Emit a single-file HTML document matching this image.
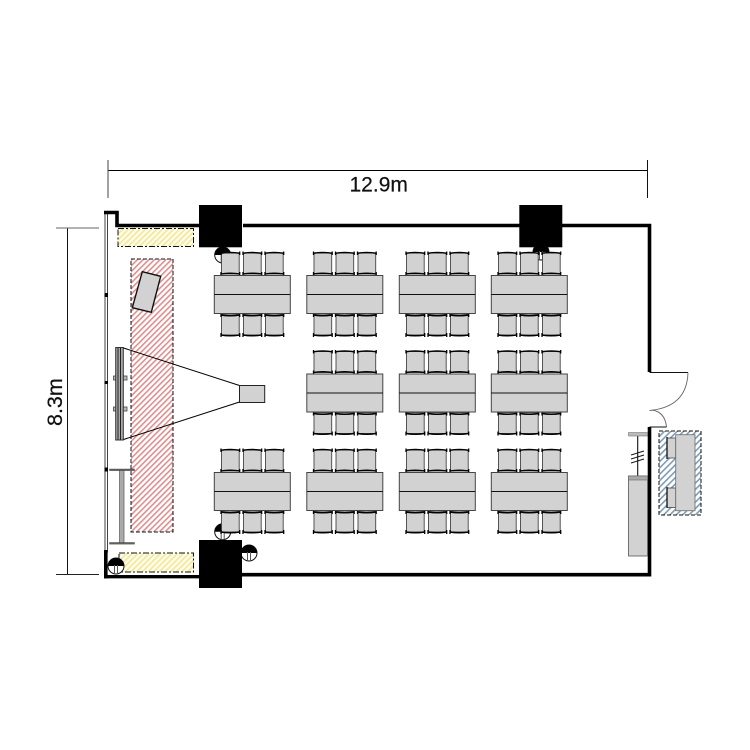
<!DOCTYPE html>
<html><head><meta charset="utf-8"><style>html,body{margin:0;padding:0;background:#fff}svg{display:block}</style></head><body>
<svg xmlns="http://www.w3.org/2000/svg" width="750" height="750" viewBox="0 0 750 750">
<defs>
<pattern id="r" width="4" height="4" patternUnits="userSpaceOnUse" patternTransform="rotate(45)"><rect width="4" height="4" fill="#fff"/><rect width="1.6" height="4" fill="#e08f8f"/></pattern>
<pattern id="y" width="4" height="4" patternUnits="userSpaceOnUse" patternTransform="rotate(45)"><rect width="4" height="4" fill="#fffdf0"/><rect width="1.8" height="4" fill="#f3e99c"/></pattern>
<pattern id="b" width="4.5" height="4.5" patternUnits="userSpaceOnUse" patternTransform="rotate(45)"><rect width="4.5" height="4.5" fill="#fff"/><rect width="1.6" height="4.5" fill="#7f9bb5"/></pattern>
<g id="c"><rect x="0.5" y="1.5" width="17.7" height="21" fill="#d2d2d2" stroke="#444" stroke-width="0.9"/><path d="M0 1.8Q9 0.3 18.7 1.8M0 22.5Q9 21 18.7 22.5" fill="none" stroke="#000" stroke-width="1.5"/><path d="M0 0V3.5M18.7 0V3.5M0 20.5V24M18.7 20.5V24" stroke="#000" stroke-width="1.3"/></g>
<g id="cd"><rect x="0.5" y="0.5" width="17.7" height="21" fill="#d2d2d2" stroke="#444" stroke-width="0.9"/><path d="M0 1.5Q9 3 18.7 1.5M0 21.5Q9 23 18.7 21.5" fill="none" stroke="#000" stroke-width="1.5"/><path d="M0 0V3.5M18.7 0V3.5M0 19.5V23.5M18.7 19.5V23.5" stroke="#000" stroke-width="1.3"/></g>
<g id="t">
<use href="#c" x="7" y="-24"/><use href="#c" x="29" y="-24"/><use href="#c" x="51" y="-24"/>
<use href="#cd" x="7" y="38"/><use href="#cd" x="29" y="38"/><use href="#cd" x="51" y="38"/>
<rect x="0.3" y="0" width="76" height="38" fill="#d2d2d2" stroke="#444" stroke-width="1"/>
<line x1="0.3" y1="19" x2="76.3" y2="19" stroke="#111" stroke-width="1"/>
</g>
<g id="d"><circle cx="0" cy="0" r="8" fill="#fff" stroke="#111" stroke-width="1"/><path d="M-8 0A8 8 0 0 1 8 0Z" fill="#000"/><path d="M-1.5 -1V8M1.5 -1V8" stroke="#555" stroke-width="1"/></g>
</defs>

<!-- dimensions -->
<line x1="108" y1="170.5" x2="648" y2="170.5" stroke="#000" stroke-width="1"/>
<line x1="108" y1="160" x2="108" y2="198" stroke="#444" stroke-width="1"/>
<line x1="647.5" y1="160" x2="647.5" y2="198" stroke="#111" stroke-width="1"/>
<text x="349.5" y="191.5" font-family="Liberation Sans, sans-serif" font-size="21" fill="#111" stroke="#111" stroke-width="0.2">12.9m</text>
<line x1="67.5" y1="228" x2="67.5" y2="575" stroke="#111" stroke-width="1"/>
<line x1="56" y1="228" x2="99" y2="228" stroke="#666" stroke-width="1"/>
<line x1="56" y1="574.5" x2="99" y2="574.5" stroke="#222" stroke-width="1"/>
<text transform="translate(62 426) rotate(-90)" font-family="Liberation Sans, sans-serif" font-size="21.5" fill="#111" stroke="#111" stroke-width="0.2">8.3m</text>

<!-- hatch zones -->
<rect x="118" y="228.5" width="75.5" height="18" fill="url(#y)" stroke="#111" stroke-width="1" stroke-dasharray="6 2 2 2"/>
<rect x="119" y="553" width="74.5" height="19" fill="url(#y)" stroke="#111" stroke-width="1" stroke-dasharray="6 2 2 2"/>
<rect x="131" y="259" width="42" height="273" fill="url(#r)" stroke="#111" stroke-width="1" stroke-dasharray="4 2"/>
<polygon points="142.3,271.7 160.7,276.3 151.3,312.3 132.3,307.7" fill="#d2d2d2" stroke="#111" stroke-width="1.4"/>

<!-- door swing circles -->
<use href="#d" x="222.7" y="255"/>
<use href="#d" x="222.7" y="531.7"/>
<use href="#d" x="249" y="553"/>
<use href="#d" x="541" y="252"/>

<!-- tables -->
<use href="#t" x="214" y="275.5"/><use href="#t" x="306.5" y="275.5"/><use href="#t" x="399" y="275.5"/><use href="#t" x="491" y="275.5"/>
<use href="#t" x="306.5" y="374"/><use href="#t" x="399" y="374"/><use href="#t" x="491" y="374"/>
<use href="#t" x="214" y="472.5"/><use href="#t" x="306.5" y="472.5"/><use href="#t" x="399" y="472.5"/><use href="#t" x="491" y="472.5"/>

<!-- walls -->
<rect x="105" y="212" width="2.5" height="340" fill="#fff" stroke="#444" stroke-width="1"/>
<path d="M104 212.5H117V225.5H199M243 225.5H649.5V372M649.5 427V574.7H242" fill="none" stroke="#000" stroke-width="3.6"/>
<path d="M104 576.7H199" fill="none" stroke="#000" stroke-width="3.4"/>
<rect x="104" y="550" width="3.6" height="28.4" fill="#000"/>
<rect x="104.5" y="293" width="3.5" height="4" fill="#000"/>
<rect x="104.5" y="381" width="3.5" height="3" fill="#000"/>
<rect x="104.5" y="467.5" width="3.5" height="4" fill="#000"/>
<use href="#d" x="116" y="566"/>

<!-- columns -->
<rect x="199" y="205" width="43" height="42.3" fill="#000"/>
<rect x="519.3" y="205" width="43" height="42.3" fill="#000"/>
<rect x="199" y="540" width="43" height="48" fill="#000"/>

<!-- screen & projector -->
<line x1="122" y1="347.5" x2="239.5" y2="385.5" stroke="#000" stroke-width="1"/>
<line x1="122" y1="440" x2="239.5" y2="402" stroke="#000" stroke-width="1"/>
<rect x="239.5" y="385.5" width="25.2" height="17" fill="#d2d2d2" stroke="#222" stroke-width="1"/>
<rect x="113.5" y="376" width="13.5" height="4" fill="#bbb" stroke="#444" stroke-width="0.8"/>
<rect x="113.5" y="407" width="13.5" height="4" fill="#bbb" stroke="#444" stroke-width="0.8"/>
<rect x="115.7" y="347.5" width="7.6" height="92.5" fill="#aaa" stroke="#333" stroke-width="1"/>
<line x1="118" y1="348" x2="118" y2="440" stroke="#222" stroke-width="1"/>
<line x1="120.5" y1="348" x2="120.5" y2="440" stroke="#222" stroke-width="1"/>

<!-- lectern -->
<rect x="119.5" y="470" width="4.5" height="73" fill="#aaa" stroke="#666" stroke-width="0.8"/>
<rect x="109.5" y="469" width="25" height="1.6" fill="#666" stroke="#333" stroke-width="0.4"/>
<rect x="109.5" y="542.5" width="25" height="1.6" fill="#666" stroke="#333" stroke-width="0.4"/>

<!-- door -->
<line x1="649.5" y1="372.5" x2="688" y2="372.5" stroke="#111" stroke-width="1"/>
<path d="M688 372.5Q687 407 649.5 410.5" fill="none" stroke="#666" stroke-width="0.9"/>
<path d="M652 410Q665 412 666.5 427" fill="none" stroke="#666" stroke-width="0.9"/>
<line x1="649.5" y1="427" x2="666.5" y2="427" stroke="#111" stroke-width="1"/>

<!-- right side furniture -->
<line x1="637.7" y1="434" x2="637.7" y2="477" stroke="#111" stroke-width="1.1"/>
<path d="M631 455L644 451M631 459L644 455M631 463L644 459" stroke="#111" stroke-width="1"/>
<rect x="628.5" y="432.5" width="19" height="3.5" fill="#bbb" stroke="#777" stroke-width="0.6"/>
<rect x="628.5" y="476" width="19" height="80" fill="#d2d2d2" stroke="#666" stroke-width="0.9"/>
<rect x="628.5" y="476" width="19" height="4" fill="#aaa" stroke="#666" stroke-width="0.6"/>

<rect x="659" y="431" width="42" height="84" fill="url(#b)" stroke="#111" stroke-width="1" stroke-dasharray="4 2"/>
<rect x="667" y="438" width="8.7" height="20" fill="#d2d2d2" stroke="#444" stroke-width="0.8"/>
<rect x="667" y="488" width="8.7" height="19.5" fill="#d2d2d2" stroke="#444" stroke-width="0.8"/>
<path d="M667 437V459M667 487V508" stroke="#111" stroke-width="1.3"/>
<rect x="675.7" y="434.7" width="19.3" height="76" fill="#d2d2d2" stroke="#777" stroke-width="0.9"/>
</svg>
</body></html>
